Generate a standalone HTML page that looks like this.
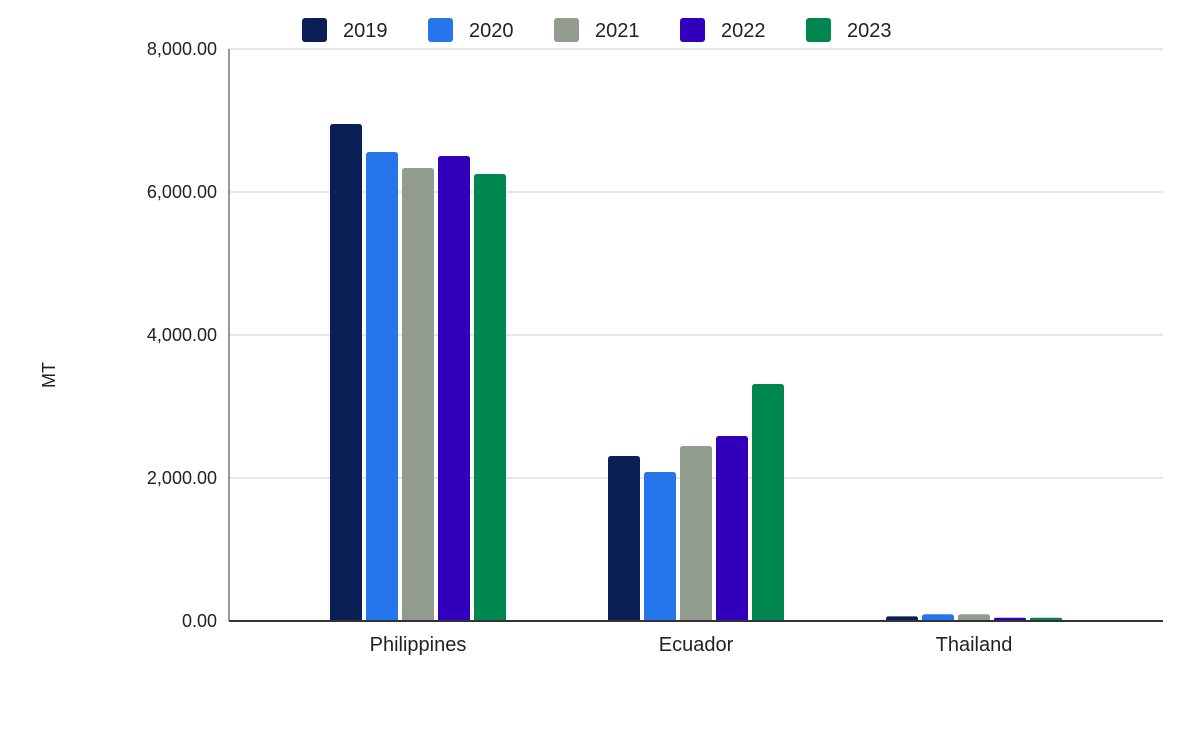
<!DOCTYPE html>
<html><head><meta charset="utf-8"><style>
body{margin:0;background:#fff;font-family:"Liberation Sans",Arial,sans-serif}
</style></head><body>
<svg id="chart" width="1200" height="742" xmlns="http://www.w3.org/2000/svg"></svg>
<script>
const categories=["Philippines","Ecuador","Thailand"];
const years=["2019","2020","2021","2022","2023"];
const colors=["#0a1f56","#2675ec","#919b8e","#3200bd","#00874f"];
const s2019=[6951,2308,65];
const s2020=[6559,2084,95];
const s2021=[6336,2448,95];
const s2022=[6503,2587,45];
const s2023=[6252,3315,45];
const series=[s2019,s2020,s2021,s2022,s2023];
const yTicks=[0,2000,4000,6000,8000];
const yTickLabels=["0.00","2,000.00","4,000.00","6,000.00","8,000.00"];
const NS="http://www.w3.org/2000/svg";
const svg=document.getElementById('chart');
const x0=229,x1=1163,yBase=621,yTop=49,yMax=8000;
const y=v=>yBase-(v/yMax)*(yBase-yTop);
const groupCenter=i=>418+i*278;
function mk(t,a,txt){const e=document.createElementNS(NS,t);for(const k in a)e.setAttribute(k,a[k]);if(txt!=null)e.textContent=txt;svg.appendChild(e);return e;}
yTicks.forEach((t,i)=>{
 if(t>0){const g=mk('line',{x1:x0,x2:x1,y1:y(t),y2:y(t),stroke:'#cccccc','stroke-width':1});
 
 }
 const l=mk('text',{x:217,y:y(t)+6,'text-anchor':'end','font-size':18,fill:'#222'},yTickLabels[i]);
 
 
});
const ya=mk('line',{x1:x0,x2:x0,y1:yTop,y2:yBase,stroke:'#333','stroke-width':1});


const yt=mk('text',{x:55,y:375,'text-anchor':'middle','font-size':18,fill:'#222',transform:'rotate(-90 55 375)'},'MT');


const bw=32,step=36;
categories.forEach((c,i)=>{
 const cx=groupCenter(i);
 series.forEach((s,j)=>{
  const bx=cx-2.5*step+j*step+2;
  const top=y(s[i]);const h=yBase-top;
  const r=Math.min(3,h/2);
  const p=mk('path',{d:`M${bx},${yBase}V${top+r}Q${bx},${top} ${bx+r},${top}H${bx+bw-r}Q${bx+bw},${top} ${bx+bw},${top+r}V${yBase}Z`,fill:colors[j]});
  
  
 });
 const t=mk('text',{x:cx,y:651,'text-anchor':'middle','font-size':20,fill:'#222'},c);
 
 
});
const xa=mk('line',{x1:x0,x2:x1,y1:yBase,y2:yBase,stroke:'#333','stroke-width':2});


years.forEach((yr,j)=>{
 const lx=302+j*126;
 const r=mk('rect',{x:lx,y:18,width:25,height:24,rx:3,fill:colors[j]});
 
 
 const t=mk('text',{x:lx+41,y:37,'font-size':20,fill:'#222'},yr);
 
 
});
</script>
</body></html>
